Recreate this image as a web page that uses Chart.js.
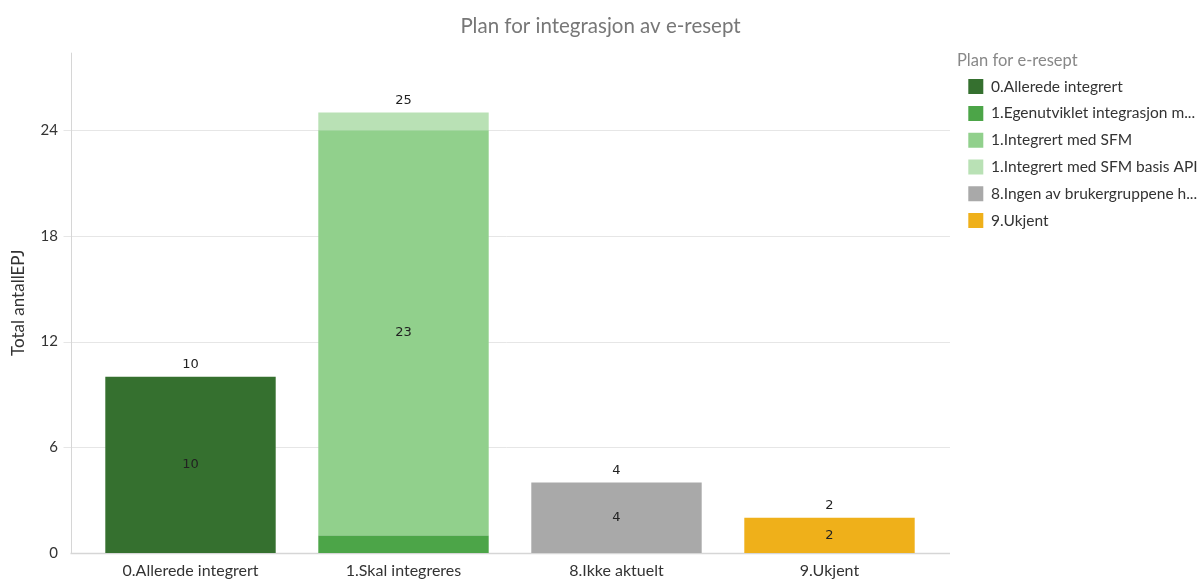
<!DOCTYPE html>
<html>
<head>
<meta charset="utf-8">
<title>Plan for integrasjon av e-resept</title>
<script src="https://cdn.jsdelivr.net/npm/chart.js@4.4.1/dist/chart.umd.min.js"></script>
<style>
  html, body { margin: 0; padding: 0; background: #fff; }
  #wrap { width: 1201px; height: 579px; }
</style>
</head>
<body>
<div id="wrap"><canvas id="planChart"></canvas></div>
<script>
'use strict';

// ---- Data ----
const categories = ['0.Allerede integrert', '1.Skal integreres', '8.Ikke aktuelt', '9.Ukjent'];

const seriesNames = [
  '0.Allerede integrert',
  '1.Egenutviklet integrasjon m...',
  '1.Integrert med SFM',
  '1.Integrert med SFM basis API',
  '8.Ingen av brukergruppene h...',
  '9.Ukjent',
];

const alleredeIntegrert = [10, 0, 0, 0];
const egenutviklet      = [0, 1, 0, 0];
const integrertSFM      = [0, 23, 0, 0];
const integrertBasisAPI = [0, 1, 0, 0];
const ingenBrukergruppe = [0, 0, 4, 0];
const ukjent            = [0, 0, 0, 2];

const yTicks = [0, 6, 12, 18, 24];
const yMax = 28.4;

// ---- Colours ----
const COLORS = {
  darkGreen:  '#35702f',
  green:      '#4ca548',
  lightGreen: '#91d08c',
  paleGreen:  '#b9e1b5',
  gray:       '#a9a9a9',
  amber:      '#efb01a',
  grid:       '#e6e6e6',
  axis:       '#d6d6d6',
  text:       '#333333',
};

const seriesData = [alleredeIntegrert, egenutviklet, integrertSFM, integrertBasisAPI, ingenBrukergruppe, ukjent];
const seriesColors = [COLORS.darkGreen, COLORS.green, COLORS.lightGreen, COLORS.paleGreen, COLORS.gray, COLORS.amber];

// ---- Grid lines + axis lines, a bit wider than the plot area ----
const gridPlugin = {
  id: 'wideGrid',
  beforeDatasetsDraw(chart) {
    const { ctx, chartArea: a, scales: { y } } = chart;
    const axisX = a.left - 13.5;
    const rightX = a.right + 14;
    ctx.save();
    yTicks.forEach(v => {
      const py = Math.round(y.getPixelForValue(v)) + 0.5;
      ctx.beginPath();
      if (v === 0) {
        ctx.strokeStyle = COLORS.axis;
        ctx.lineWidth = 1.5;
        ctx.moveTo(axisX, py);
      } else {
        ctx.strokeStyle = COLORS.grid;
        ctx.lineWidth = 1;
        ctx.moveTo(axisX - 7, py);
      }
      ctx.lineTo(rightX, py);
      ctx.stroke();
    });
    ctx.beginPath();
    ctx.strokeStyle = COLORS.axis;
    ctx.lineWidth = 1;
    ctx.moveTo(Math.round(axisX) + 0.5, a.top);
    ctx.lineTo(Math.round(axisX) + 0.5, y.getPixelForValue(0));
    ctx.stroke();
    ctx.restore();
  }
};

// ---- Value labels inside segments and totals on top ----
const labelPlugin = {
  id: 'valueLabels',
  afterDatasetsDraw(chart) {
    const { ctx, scales: { y } } = chart;
    ctx.save();
    ctx.font = '13px "DejaVu Sans", sans-serif';
    ctx.fillStyle = '#222';
    ctx.textAlign = 'center';
    ctx.textBaseline = 'middle';
    chart.data.datasets.forEach((ds, di) => {
      const meta = chart.getDatasetMeta(di);
      meta.data.forEach((bar, i) => {
        const v = ds.data[i];
        if (!v) return;
        const h = Math.abs(bar.base - bar.y);
        if (h < 25) return;
        ctx.fillText(String(v), bar.x, (bar.y + bar.base) / 2);
      });
    });
    categories.forEach((c, i) => {
      const total = seriesData.reduce((s, arr) => s + arr[i], 0);
      if (!total) return;
      const bar = chart.getDatasetMeta(0).data[i];
      ctx.fillText(String(total), bar.x, y.getPixelForValue(total) - 12);
    });
    ctx.restore();
  }
};

new Chart(document.getElementById('planChart'), {
  type: 'bar',
  data: {
    labels: categories,
    datasets: seriesNames.map((name, i) => ({
      label: name,
      data: seriesData[i],
      backgroundColor: seriesColors[i],
      borderWidth: 0,
      categoryPercentage: 0.8,
      barPercentage: 1.0,
    })),
  },
  options: {
    responsive: true,
    maintainAspectRatio: false,
    animation: false,
    layout: { padding: 0 },
    plugins: {
      title: {
        display: true,
        text: 'Plan for integrasjon av e-resept',
        color: '#777777',
        font: { family: 'Lato', size: 20.5, weight: 'normal' },
        padding: { top: 13.7, bottom: 14.4 },
      },
      legend: {
        position: 'right',
        align: 'start',
        fullSize: false,
        maxWidth: 244,
        title: {
          display: true,
          position: 'start',
          text: 'Plan for e-resept',
          color: '#888888',
          font: { family: 'Lato', size: 16.5, lineHeight: 0.9 },
          padding: { top: 0, bottom: 0 },
        },
        labels: {
          color: COLORS.text,
          font: { family: 'Lato', size: 15.5 },
          boxWidth: 15,
          boxHeight: 15,
          padding: 11.3,
        },
      },
      tooltip: { enabled: false },
    },
    scales: {
      x: {
        stacked: true,
        afterFit: s => { s.height = 26; s.paddingTop = 0; s.paddingBottom = 0; },
        grid: { display: false, drawTicks: false },
        border: { display: false },
        ticks: { color: COLORS.text, font: { family: 'Lato', size: 16, lineHeight: 1.0 }, padding: 10, maxRotation: 0 },
      },
      y: {
        stacked: true,
        position: 'left',
        min: 0,
        max: yMax,
        afterBuildTicks: s => { s.ticks = yTicks.map(v => ({ value: v })); },
        afterFit: s => { s.width = 84; s.paddingTop = 0; s.paddingBottom = 0; },
        grid: { display: false, drawTicks: false },
        border: { display: false },
        ticks: { color: COLORS.text, font: { family: 'Lato', size: 15 }, padding: 26 },
        title: {
          display: true,
          text: 'Total antallEPJ',
          color: COLORS.text,
          font: { family: 'Lato', size: 17 },
          padding: { top: 8, bottom: 0 },
        },
      },
      yGap: {
        axis: 'y',
        position: 'right',
        display: true,
        afterFit: s => { s.width = 21; s.paddingTop = 0; s.paddingBottom = 0; },
        grid: { display: false, drawTicks: false },
        border: { display: false },
        ticks: { display: false },
      },
    },
  },
  plugins: [gridPlugin, labelPlugin],
});
</script>
</body>
</html>
